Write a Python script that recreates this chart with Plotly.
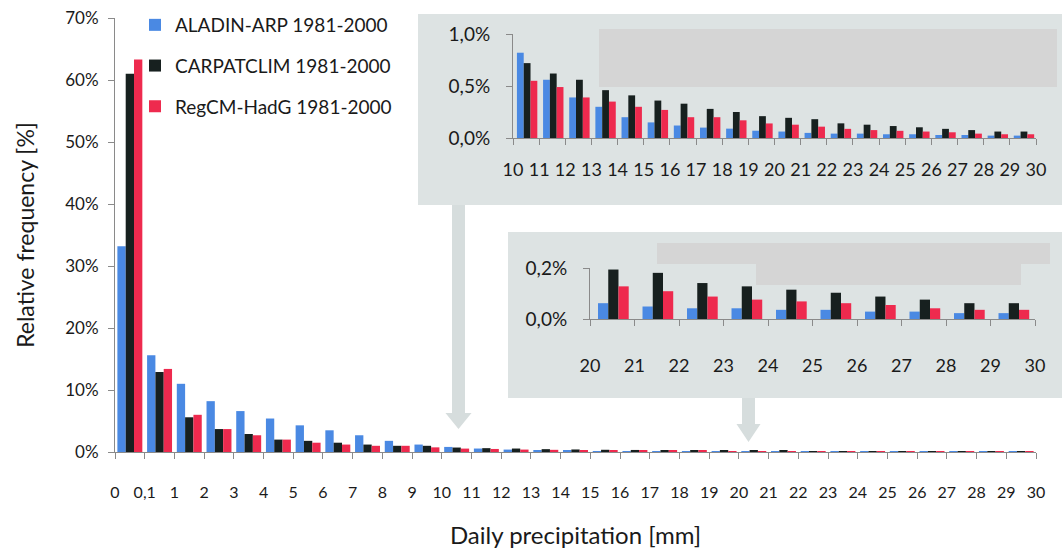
import plotly.graph_objects as go

# ---------------- data (percent) ----------------
bin_labels = ["0", "0,1", "1", "2", "3", "4", "5", "6", "7", "8", "9", "10", "11", "12",
              "13", "14", "15", "16", "17", "18", "19", "20", "21", "22", "23", "24",
              "25", "26", "27", "28", "29", "30"]
series_names = ["ALADIN-ARP 1981-2000", "CARPATCLIM 1981-2000", "RegCM-HadG 1981-2000"]

aladin = [33.2, 15.6, 11.0, 8.2, 6.6, 5.4, 4.3, 3.5, 2.7, 1.8, 1.2,
          0.82, 0.56, 0.39, 0.30, 0.20, 0.15, 0.12, 0.10, 0.09, 0.07,
          0.062, 0.049, 0.042, 0.042, 0.036, 0.036, 0.029, 0.029, 0.023, 0.023]
carpatclim = [61.0, 12.9, 5.6, 3.7, 2.9, 2.0, 1.8, 1.5, 1.2, 1.0, 1.0,
              0.72, 0.62, 0.56, 0.46, 0.41, 0.36, 0.33, 0.28, 0.25, 0.21,
              0.194, 0.181, 0.141, 0.128, 0.115, 0.103, 0.088, 0.076, 0.062, 0.062]
regcm = [63.3, 13.4, 6.0, 3.7, 2.7, 2.0, 1.5, 1.2, 1.0, 1.0, 0.75,
         0.55, 0.49, 0.39, 0.35, 0.30, 0.27, 0.20, 0.20, 0.17, 0.14,
         0.128, 0.109, 0.088, 0.076, 0.069, 0.062, 0.055, 0.042, 0.036, 0.036]

main_yticks = [0, 10, 20, 30, 40, 50, 60, 70]
main_yticktext = ["0%", "10%", "20%", "30%", "40%", "50%", "60%", "70%"]
inset1_yticks = [0, 0.5, 1.0]
inset1_yticktext = ["0,0%", "0,5%", "1,0%"]
inset2_yticks = [0, 0.2]
inset2_yticktext = ["0,0%", "0,2%"]

colors = ["#4a89e3", "#17201f", "#ee2a4e"]
FONT = "Lato, 'Open Sans', sans-serif"
AXIS_GRAY = "#8a8a8a"
PANEL = "#dde3e3"
ARROW = "#d6dddd"
BLOCK = "#d5d5d5"

W, H = 1062, 549
ML, MR, MT, MB = 115, 26, 18, 97
PW, PH = W - ML - MR, H - MT - MB


def px(x):
    return (x - ML) / PW


def py(y):
    return (H - MB - y) / PH


series = [aladin, carpatclim, regcm]
n_main = len(aladin)
start1 = bin_labels.index("10")     # first bin 10-11
start2 = bin_labels.index("20")     # first bin 20-21

fig = go.Figure()

# main chart
main_off = [-0.42, -0.14, 0.14]
for k, (name, vals) in enumerate(zip(series_names, series)):
    fig.add_trace(go.Bar(
        x=[i + 0.5 for i in range(n_main)], y=vals, name=name,
        marker=dict(color=colors[k], line=dict(width=0)),
        width=0.28, offset=main_off[k], legendgroup=name,
        xaxis="x", yaxis="y", hoverinfo="skip"))

# inset 1 : 10-30 mm
in1_off = [-0.35, -0.09, 0.17]
for k, (name, vals) in enumerate(zip(series_names, series)):
    sub = vals[start1:]
    fig.add_trace(go.Bar(
        x=[i + 0.5 for i in range(len(sub))], y=sub, name=name, showlegend=False,
        marker=dict(color=colors[k], line=dict(width=0)),
        width=0.26, offset=in1_off[k], xaxis="x2", yaxis="y2", hoverinfo="skip"))

# inset 2 : 20-30 mm
in2_off = [-0.32, -0.09, 0.14]
for k, (name, vals) in enumerate(zip(series_names, series)):
    sub = vals[start2:]
    fig.add_trace(go.Bar(
        x=[i + 0.5 for i in range(len(sub))], y=sub, name=name, showlegend=False,
        marker=dict(color=colors[k], line=dict(width=0)),
        width=0.23, offset=in2_off[k], xaxis="x3", yaxis="y3", hoverinfo="skip"))

axis_common = dict(showgrid=False, zeroline=False, showline=True, linecolor=AXIS_GRAY,
                   linewidth=1, ticks="outside", tickcolor=AXIS_GRAY, ticklen=6, tickwidth=1)

lab1 = bin_labels[start1:]
lab2 = bin_labels[start2:]

fig.update_layout(
    width=W, height=H, margin=dict(l=ML, r=MR, t=MT, b=MB, autoexpand=False),
    paper_bgcolor="white", plot_bgcolor="rgba(0,0,0,0)",
    barmode="overlay",
    font=dict(family=FONT, color="#1a1a1a"),
    xaxis=dict(**axis_common, domain=[0, 1], range=[0, n_main],
               tickvals=list(range(len(bin_labels))), ticktext=bin_labels,
               tickfont=dict(size=16), ticklabelstandoff=20,
               title=dict(text="Daily precipitation [mm]", font=dict(size=24), standoff=26)),
    yaxis=dict(**axis_common, domain=[0, 1], range=[0, 70],
               tickvals=main_yticks, ticktext=main_yticktext,
               tickfont=dict(size=17), ticklabelstandoff=6,
               title=dict(text="Relative frequency [%]", font=dict(size=23), standoff=24)),
    xaxis2=dict(**axis_common, anchor="y2", domain=[px(513), 1.0], range=[0, len(lab1) - 1],
                tickvals=list(range(len(lab1))), ticktext=lab1,
                tickfont=dict(size=18), ticklabelstandoff=9),
    yaxis2=dict(**axis_common, anchor="x2", domain=[py(138), py(34)], range=[0, 1.0],
                tickvals=inset1_yticks, ticktext=inset1_yticktext,
                tickfont=dict(size=19), ticklabelstandoff=12),
    xaxis3=dict(**axis_common, anchor="y3", domain=[px(590), px(1035)], range=[0, len(lab2) - 1],
                tickvals=list(range(len(lab2))), ticktext=lab2,
                tickfont=dict(size=18), ticklabelstandoff=24),
    yaxis3=dict(**axis_common, anchor="x3", domain=[py(319), py(268)], range=[0, 0.2],
                tickvals=inset2_yticks, ticktext=inset2_yticktext,
                tickfont=dict(size=19), ticklabelstandoff=12),
    showlegend=True,
    legend=dict(x=px(135), y=py(6), xanchor="left", yanchor="top",
                bgcolor="rgba(0,0,0,0)", font=dict(size=19, color="#1a1a1a"),
                tracegroupgap=13, itemclick=False, itemdoubleclick=False),
)


def rect(x0, y0, x1, y1, color):
    return dict(type="rect", xref="paper", yref="paper", layer="below",
                x0=px(x0), x1=px(x1), y0=py(y1), y1=py(y0),
                fillcolor=color, line=dict(width=0))


def arrow(xc, y_top, y_head, y_tip, body_half, head_half, color):
    pts = [(xc - body_half, y_top), (xc + body_half, y_top), (xc + body_half, y_head),
           (xc + head_half, y_head), (xc, y_tip), (xc - head_half, y_head),
           (xc - body_half, y_head)]
    path = "M " + " L ".join(f"{px(a):.5f},{py(b):.5f}" for a, b in pts) + " Z"
    return dict(type="path", xref="paper", yref="paper", layer="below", path=path,
                fillcolor=color, line=dict(width=0))


shapes = [
    rect(418, 14, 1062, 205, PANEL),
    rect(599, 29, 1057, 87, BLOCK),
    arrow(458.5, 205, 413, 429, 6.5, 13, ARROW),
    rect(508, 232, 1062, 398, PANEL),
    rect(657, 243, 1050, 264, BLOCK),
    rect(756, 264, 1021, 285, BLOCK),
    arrow(748.5, 398, 424, 442, 6.5, 12, ARROW),
]
fig.update_layout(shapes=shapes)

fig.write_html("out.html")
